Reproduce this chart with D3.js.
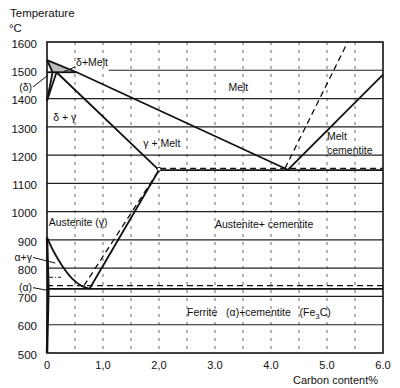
<!DOCTYPE html>
<html>
<head>
<meta charset="utf-8">
<script src="https://cdn.jsdelivr.net/npm/d3@7"></script>
<style>
	body { margin: 0; background: #fff; }
	text { font-family: "Liberation Sans", Arial, sans-serif; fill: #111; }
</style>
</head>
<body>
<div id="chart-area"></div>
<script>
// Axis ticks
var xTicks = [0, 1, 2, 3, 4, 5, 6];
var xTickLabels = ["0", "1,0", "2,0", "3.0", "4.0", "5.0", "6.0"];
var yTicks = [500, 600, 700, 800, 900, 1000, 1100, 1200, 1300, 1400, 1500, 1600];
var gridTemps = [600, 700, 800, 900, 1000, 1100, 1200, 1300, 1400];
var gridCarbon = [0.5, 1, 1.5, 2, 2.5, 3, 3.5, 4, 4.5, 5, 5.5];

// Phase boundaries [carbon %, temperature C]
var liquidusLeft = [[0, 1536], [0.53, 1493], [4.3, 1148]];
var liquidusRight = [[4.3, 1148], [6.0, 1485]];
var deltaSolidus = [[0, 1536], [0.1, 1493]];
var peritectic = [[0, 1493], [0.53, 1493]];
var deltaSolvus = [[0.1, 1493], [0, 1392]];
var gammaDelta = [[0.17, 1493], [0, 1392]];
var gammaSolidus = [[0.17, 1493], [2.0, 1147]];
var eutectic = [[2.0, 1147], [6.0, 1147]];
var acm = [[0.76, 727], [2.0, 1147]];
var a3 = [[0, 908], [0.1, 866], [0.25, 815], [0.45, 763], [0.62, 737], [0.76, 727]];
var alphaSolvus = [[0, 908], [0.025, 727], [0, 500]];
var eutectoid = [[0.02, 727], [6.0, 727]];
var a2 = [[0.02, 768], [0.25, 768]];

// Stable (graphite) system, dashed
var eutecticStable = [[2.02, 1153], [6.0, 1153]];
var acmStable = [[0.66, 738], [2.02, 1153]];
var liquidusStable = [[4.25, 1153], [5.37, 1600]];
var eutectoidStable = [[0, 738], [6.0, 738]];

// Region labels [text, carbon %, temperature]
var regionLabels = [
	["δ+Melt", 0.52, 1527],
	["Melt", 3.24, 1441],
	["δ + γ", 0.11, 1335],
	["γ + Melt", 1.72, 1243],
	["Melt", 5.0, 1268],
	["cementite", 5.0, 1218],
	["Austenite (γ)", 0.03, 963],
	["Austenite+ cementite", 3.0, 956]
];

// Labels outside the left axis [text, temperature, leader end carbon, leader end temp]
var sideLabels = [
	["(δ)", 1441, 0.02, 1483],
	["α+γ", 838, 0.15, 818],
	["(α)", 731, 0, 722]
];

var canvasWidth = 400;
var canvasHeight = 388;
var margin = {top: 42, right: 17, bottom: 35, left: 47};
var chartWidth = canvasWidth - margin.left - margin.right;
var chartHeight = canvasHeight - margin.top - margin.bottom;

var canvas = d3.select("#chart-area")
	.append("svg")
	.attr("width", canvasWidth)
	.attr("height", canvasHeight);

var chartArea = canvas.append("g")
	.attr("transform", "translate(" + margin.left + "," + margin.top + ")");

// Scales
var x = d3.scaleLinear().domain([0, 6]).range([0, chartWidth]);
var y = d3.scaleLinear().domain([500, 1600]).range([chartHeight, 0]);

var line = d3.line()
	.x(function(d) { return x(d[0]); })
	.y(function(d) { return y(d[1]); });

// Vertical dotted grid
chartArea.selectAll(".vgrid")
	.data(gridCarbon)
	.enter().append("line")
	.attr("x1", function(d) { return x(d); })
	.attr("x2", function(d) { return x(d); })
	.attr("y1", 0)
	.attr("y2", chartHeight)
	.attr("stroke", "#666")
	.attr("stroke-width", 1)
	.attr("stroke-dasharray", "3,5");

// Horizontal grid
chartArea.selectAll(".hgrid")
	.data(gridTemps)
	.enter().append("line")
	.attr("x1", 0)
	.attr("x2", chartWidth)
	.attr("y1", function(d) { return y(d); })
	.attr("y2", function(d) { return y(d); })
	.attr("stroke", "#222")
	.attr("stroke-width", 1.2);

// 1500 grid line stops at the delta + melt label
chartArea.append("line")
	.attr("x1", x(1.1))
	.attr("x2", chartWidth)
	.attr("y1", y(1500))
	.attr("y2", y(1500))
	.attr("stroke", "#222")
	.attr("stroke-width", 1.2);

// Frame
chartArea.append("rect")
	.attr("width", chartWidth)
	.attr("height", chartHeight)
	.attr("fill", "none")
	.attr("stroke", "#111")
	.attr("stroke-width", 1.6);

// Hatched delta + melt triangle
chartArea.append("path")
	.attr("d", line([[0, 1536], [0.53, 1493], [0.1, 1493]]) + "Z")
	.attr("fill", "#bbb")
	.attr("stroke", "none");

// Solid phase lines
var solidLines = [liquidusLeft, liquidusRight, deltaSolidus, peritectic, deltaSolvus,
	gammaDelta, gammaSolidus, eutectic, acm, eutectoid];
chartArea.selectAll(".phase")
	.data(solidLines)
	.enter().append("path")
	.attr("d", line)
	.attr("fill", "none")
	.attr("stroke", "#111")
	.attr("stroke-width", 1.8);

chartArea.append("path")
	.attr("d", line.curve(d3.curveMonotoneX)(a3))
	.attr("fill", "none")
	.attr("stroke", "#111")
	.attr("stroke-width", 1.8);
line.curve(d3.curveLinear);

chartArea.append("path")
	.attr("d", line(alphaSolvus))
	.attr("fill", "none")
	.attr("stroke", "#111")
	.attr("stroke-width", 2.4);

// A2 magnetic line (dash-dot)
chartArea.append("path")
	.attr("d", line(a2))
	.attr("fill", "none")
	.attr("stroke", "#111")
	.attr("stroke-width", 1.2)
	.attr("stroke-dasharray", "5,2,1,2");

// Dashed (stable system) lines
var dashedLines = [eutecticStable, acmStable, liquidusStable, eutectoidStable];
chartArea.selectAll(".stable")
	.data(dashedLines)
	.enter().append("path")
	.attr("d", line)
	.attr("fill", "none")
	.attr("stroke", "#111")
	.attr("stroke-width", 1.3)
	.attr("stroke-dasharray", "6,4");

// Small circle at 2.0 % / 1147 C
chartArea.append("circle")
	.attr("cx", x(2.0))
	.attr("cy", y(1150))
	.attr("r", 2)
	.attr("fill", "#fff")
	.attr("stroke", "#111")
	.attr("stroke-width", 1);

// Leader for delta + melt
chartArea.append("path")
	.attr("d", "M" + x(0.5) + "," + (y(1527) + 4) + " Q" + x(0.4) + "," + y(1500) + " " + x(0.3) + "," + y(1496))
	.attr("fill", "none")
	.attr("stroke", "#111")
	.attr("stroke-width", 1);

// Region labels
chartArea.selectAll(".region")
	.data(regionLabels)
	.enter().append("text")
	.attr("x", function(d) { return x(d[1]); })
	.attr("y", function(d) { return y(d[2]); })
	.attr("dy", "0.35em")
	.attr("font-size", "10.5px")
	.text(function(d) { return d[0]; });

// Ferrite + cementite label with subscript
var fLabel = chartArea.append("text")
	.attr("x", x(2.5))
	.attr("y", y(645))
	.attr("dy", "0.35em")
	.attr("font-size", "10.5px")
	.attr("xml:space", "preserve");
fLabel.append("tspan").text("Ferrite   (α)+cementite   (Fe");
fLabel.append("tspan").attr("font-size", "8px").attr("dy", 3).text("3");
fLabel.append("tspan").attr("dy", -3).text("C)");

// Left side labels and leaders
var side = canvas.append("g");
side.selectAll("text")
	.data(sideLabels)
	.enter().append("text")
	.attr("x", 32)
	.attr("y", function(d) { return margin.top + y(d[1]); })
	.attr("dy", "0.35em")
	.attr("text-anchor", "end")
	.attr("font-size", "10.5px")
	.text(function(d) { return d[0]; });
side.selectAll("line")
	.data(sideLabels)
	.enter().append("line")
	.attr("x1", 33)
	.attr("y1", function(d) { return margin.top + y(d[1]); })
	.attr("x2", function(d) { return margin.left + x(d[2]); })
	.attr("y2", function(d) { return margin.top + y(d[3]); })
	.attr("stroke", "#111")
	.attr("stroke-width", 1);

// Y tick labels
chartArea.selectAll(".ylab")
	.data(yTicks)
	.enter().append("text")
	.attr("x", -10)
	.attr("y", function(d) { return y(d); })
	.attr("dy", "0.5em")
	.attr("text-anchor", "end")
	.attr("font-size", "11.5px")
	.text(function(d) { return d; });

// X tick labels
chartArea.selectAll(".xlab")
	.data(xTicks)
	.enter().append("text")
	.attr("x", function(d) { return x(d); })
	.attr("y", chartHeight + 12)
	.attr("dy", "0.35em")
	.attr("text-anchor", "middle")
	.attr("font-size", "11px")
	.text(function(d, i) { return xTickLabels[i]; });

// Axis titles
canvas.append("text")
	.attr("x", 10)
	.attr("y", 13)
	.attr("dy", "0.35em")
	.attr("font-size", "11.5px")
	.text("Temperature");
canvas.append("text")
	.attr("x", 9)
	.attr("y", 28)
	.attr("dy", "0.35em")
	.attr("font-size", "11.5px")
	.text("°C");
canvas.append("text")
	.attr("x", 378)
	.attr("y", 380)
	.attr("dy", "0.35em")
	.attr("text-anchor", "end")
	.attr("font-size", "11px")
	.text("Carbon content%");
</script>
</body>
</html>
